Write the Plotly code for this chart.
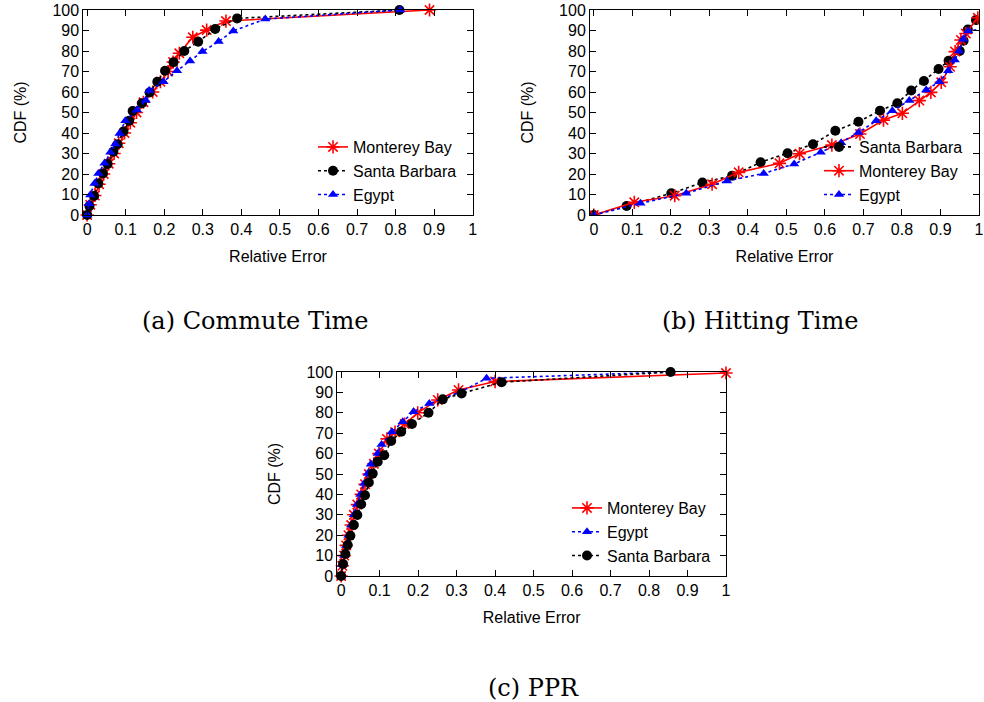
import plotly.graph_objects as go

# ---------------- data ----------------
# (a) Commute Time
a_monterey_x = [0, 0.008, 0.02, 0.031, 0.043, 0.056, 0.07, 0.082, 0.097, 0.112, 0.128, 0.146, 0.17, 0.19, 0.21, 0.223, 0.239, 0.274, 0.31, 0.36, 0.888]
a_monterey_y = [0, 5, 9.5, 15, 20, 25, 30, 35, 40, 45, 50, 55, 60, 65, 70, 74.6, 78.9, 86.7, 90.2, 94.6, 100]
a_santa_x = [0, 0.006, 0.018, 0.029, 0.041, 0.053, 0.068, 0.079, 0.094, 0.109, 0.118, 0.142, 0.162, 0.182, 0.202, 0.224, 0.252, 0.288, 0.332, 0.389, 0.81]
a_santa_y = [0, 4.4, 9.3, 15.4, 20.3, 24.9, 30.9, 34.5, 40.7, 46, 50.7, 54.5, 59.8, 65, 70.4, 74.5, 80, 84.5, 90.7, 95.9, 100]
a_egypt_x = [0, 0.005, 0.008, 0.019, 0.029, 0.045, 0.06, 0.073, 0.084, 0.099, 0.129, 0.152, 0.161, 0.198, 0.233, 0.267, 0.299, 0.341, 0.379, 0.462, 0.812]
a_egypt_y = [0, 5.5, 9.8, 15.4, 20.3, 25.2, 30.6, 34.6, 39.8, 46, 51.2, 56, 60.7, 65, 70.4, 75.1, 79.7, 84.6, 89.8, 95.6, 100]

# (b) Hitting Time
b_santa_x = [0, 0.085, 0.201, 0.282, 0.359, 0.433, 0.503, 0.569, 0.627, 0.687, 0.743, 0.788, 0.824, 0.857, 0.895, 0.921, 0.95, 0.96, 0.971, 0.992]
b_santa_y = [0, 4.4, 10.6, 15.8, 19.2, 25.7, 30.1, 34.5, 41.1, 45.5, 50.9, 54.5, 60.7, 65.4, 71.2, 75.2, 80, 85, 90.5, 95.1]
b_monterey_x = [0, 0.105, 0.21, 0.307, 0.376, 0.482, 0.534, 0.618, 0.691, 0.752, 0.801, 0.845, 0.875, 0.902, 0.925, 0.938, 0.953, 0.966, 0.997]
b_monterey_y = [0, 6.2, 9.4, 15, 20.8, 25.2, 29.9, 34.1, 39.5, 46.3, 49.6, 55.8, 59.8, 64.7, 72.3, 79.7, 85.4, 88.5, 96.2]
b_egypt_x = [0, 0.121, 0.24, 0.346, 0.441, 0.52, 0.589, 0.642, 0.687, 0.733, 0.775, 0.819, 0.863, 0.897, 0.92, 0.937, 0.948, 0.959, 0.972, 1.25]
b_egypt_y = [0, 5.7, 10.6, 16.6, 20.3, 24.9, 30.6, 35.3, 40.3, 46, 50.9, 55.8, 61, 65, 70.4, 75.6, 80, 85.7, 89.8, 97]

# (c) PPR
c_monterey_x = [0, 0.003, 0.008, 0.013, 0.019, 0.026, 0.033, 0.042, 0.052, 0.062, 0.072, 0.085, 0.098, 0.119, 0.14, 0.165, 0.199, 0.251, 0.305, 0.4, 1.0]
c_monterey_y = [0, 5, 10, 15, 20, 25, 30, 35, 40, 45, 50, 55, 60, 67.2, 70.5, 74.5, 80, 86.3, 91.2, 95.3, 99.5]
c_egypt_x = [0, 0.003, 0.008, 0.013, 0.019, 0.026, 0.033, 0.041, 0.05, 0.06, 0.069, 0.077, 0.095, 0.105, 0.132, 0.16, 0.188, 0.229, 0.31, 0.378, 0.856]
c_egypt_y = [0, 5.5, 10, 15, 20, 25, 30, 35, 40, 45.3, 50.2, 54.8, 60, 64.5, 70.7, 75.6, 80.5, 84.5, 90.2, 96.9, 100]
c_santa_x = [0, 0.005, 0.011, 0.017, 0.024, 0.033, 0.042, 0.052, 0.062, 0.072, 0.082, 0.095, 0.112, 0.13, 0.156, 0.184, 0.227, 0.264, 0.313, 0.417, 0.856]
c_santa_y = [0, 5.9, 10.8, 15.2, 19.7, 25, 29.9, 35.2, 39.6, 45.8, 50.2, 56, 59.2, 66.2, 70.7, 74.5, 80, 86.6, 89.5, 95, 100]

x_tick_vals = [0, 0.1, 0.2, 0.3, 0.4, 0.5, 0.6, 0.7, 0.8, 0.9, 1]
x_tick_text = ["0", "0.1", "0.2", "0.3", "0.4", "0.5", "0.6", "0.7", "0.8", "0.9", "1"]
y_tick_vals = [0, 10, 20, 30, 40, 50, 60, 70, 80, 90, 100]

captions = ["(a) Commute Time", "(b) Hitting Time", "(c) PPR"]

# ---------------- styles ----------------
SANS = "Liberation Sans, Arial, sans-serif"
SERIF = "DejaVu Serif, serif"

styles = {
    "Monterey Bay": dict(line=dict(color="#ff0000", width=1.6, dash="solid"),
                          marker=dict(symbol="asterisk-open", size=11, color="#ff0000",
                                      line=dict(color="#ff0000", width=1.6))),
    "Santa Barbara": dict(line=dict(color="#000000", width=1.6, dash="dot"),
                           marker=dict(symbol="circle", size=10, color="#000000")),
    "Egypt": dict(line=dict(color="#0000ff", width=1.6, dash="dot"),
                  marker=dict(symbol="triangle-up", size=9, color="#0000ff")),
}

fig = go.Figure()

def add(name, xs, ys, axis_idx, clip=False):
    sfx = "" if axis_idx == 1 else str(axis_idx)
    fig.add_trace(go.Scatter(
        x=xs, y=ys, name=name, mode="lines+markers",
        line=styles[name]["line"], marker=styles[name]["marker"],
        xaxis="x" + sfx, yaxis="y" + sfx,
        legend="legend" + sfx, cliponaxis=clip,
    ))

add("Monterey Bay", a_monterey_x, a_monterey_y, 1)
add("Santa Barbara", a_santa_x, a_santa_y, 1)
add("Egypt", a_egypt_x, a_egypt_y, 1)

add("Santa Barbara", b_santa_x, b_santa_y, 2, clip=True)
add("Monterey Bay", b_monterey_x, b_monterey_y, 2, clip=True)
add("Egypt", b_egypt_x, b_egypt_y, 2, clip=True)

add("Monterey Bay", c_monterey_x, c_monterey_y, 3)
add("Egypt", c_egypt_x, c_egypt_y, 3)
add("Santa Barbara", c_santa_x, c_santa_y, 3)

W, H = 984, 702

def px_x(p):
    return p / W

def px_y(p):
    return 1 - p / H

tickfont = dict(family=SANS, size=16, color="black")

def xaxis(dom, anchor):
    return dict(domain=dom, anchor=anchor, range=[-0.01, 1], tickvals=x_tick_vals, ticktext=x_tick_text,
                ticks="inside", ticklen=6, tickcolor="black", showline=True, linecolor="black",
                linewidth=1, mirror="allticks", showgrid=False, zeroline=False, tickfont=tickfont,
                automargin=False,
                title=dict(text="Relative Error", font=tickfont, standoff=13))

def yaxis(dom, anchor):
    return dict(domain=dom, anchor=anchor, range=[0, 100], tickvals=y_tick_vals,
                ticks="inside", ticklen=6, tickcolor="black", showline=True, linecolor="black",
                linewidth=1, mirror="allticks", showgrid=False, zeroline=False, tickfont=tickfont,
                automargin=False,
                title=dict(text="CDF (%)", font=tickfont, standoff=21))

top_dom = [px_y(215), px_y(10)]
bot_dom = [px_y(576), px_y(372)]

legend_common = dict(font=dict(family=SANS, size=16, color="black"), bgcolor="rgba(0,0,0,0)",
                     xanchor="right", yanchor="bottom", tracegroupgap=0, itemwidth=30)

fig.update_layout(
    width=W, height=H,
    margin=dict(l=0, r=0, t=0, b=0),
    paper_bgcolor="white", plot_bgcolor="white",
    xaxis=xaxis([px_x(83.3), px_x(472.7)], "y"),
    yaxis=yaxis(top_dom, "x"),
    xaxis2=xaxis([px_x(590), px_x(979)], "y2"),
    yaxis2=yaxis(top_dom, "x2"),
    xaxis3=xaxis([px_x(337.3), px_x(726)], "y3"),
    yaxis3=yaxis(bot_dom, "x3"),
    legend=dict(x=px_x(462), y=px_y(212), **legend_common),
    legend2=dict(x=px_x(968), y=px_y(212), **legend_common),
    legend3=dict(x=px_x(716), y=px_y(573), **legend_common),
    showlegend=True,
    annotations=[
        dict(text=captions[0], x=px_x(255), y=px_y(321), xref="paper", yref="paper",
             showarrow=False, xanchor="center", yanchor="middle", font=dict(family=SERIF, size=24, color="black")),
        dict(text=captions[1], x=px_x(760), y=px_y(321), xref="paper", yref="paper",
             showarrow=False, xanchor="center", yanchor="middle", font=dict(family=SERIF, size=24, color="black")),
        dict(text=captions[2], x=px_x(533), y=px_y(688), xref="paper", yref="paper",
             showarrow=False, xanchor="center", yanchor="middle", font=dict(family=SERIF, size=24, color="black")),
    ],
)

fig.write_html("out.html", config={"displayModeBar": False},
               post_script="document.body.style.margin='0px';")
